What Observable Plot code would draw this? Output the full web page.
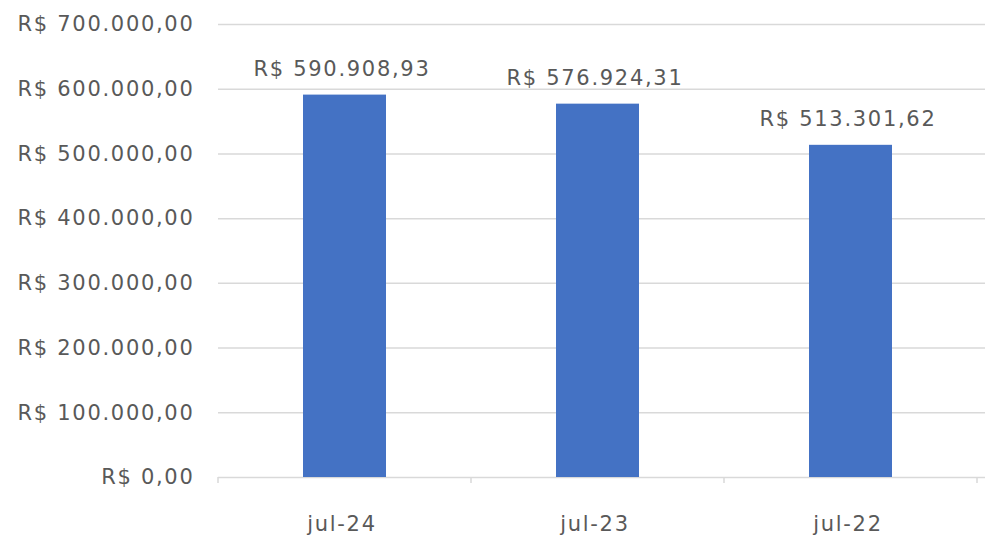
<!DOCTYPE html>
<html>
<head>
<meta charset="utf-8">
<script src="https://cdn.jsdelivr.net/npm/d3@7"></script>
<script src="https://cdn.jsdelivr.net/npm/@observablehq/plot@0.6"></script>
<style>
  html, body { margin: 0; padding: 0; background: #fff; }
  #chart svg { display: block; }
  #chart svg text { letter-spacing: 1.7px; }
</style>
</head>
<body>
<div id="chart"></div>
<script>
const categories = ["jul-24", "jul-23", "jul-22"];
const values = [590908.93, 576924.31, 513301.62];
const yTicks = [0, 100000, 200000, 300000, 400000, 500000, 600000, 700000];

const data = categories.map((c, i) => ({ cat: c, value: values[i] }));

const brl = d3.formatLocale({ decimal: ",", thousands: ".", grouping: [3], currency: ["R$ ", ""] }).format("$,.2f");

const font = "DejaVu Sans";
const textColor = "#595959";
const gridColor = "#d9d9d9";

// tick marks at category boundaries, computed from the band scale
function boundaryTicks(index, scales, values, dims) {
  const x = scales.scales.x;
  const step = x.step, bw = x.bandwidth;
  const y0 = dims.height - dims.marginBottom;
  const g = d3.create("svg:g");
  const pos = categories.map(c => scales.x(c) + bw / 2 - step / 2);
  pos.push(scales.x(categories[categories.length - 1]) + bw / 2 + step / 2);
  for (const p of pos) {
    g.append("line").attr("x1", p).attr("x2", p).attr("y1", y0).attr("y2", y0 + 6)
      .attr("stroke", gridColor).attr("stroke-width", 1.5);
  }
  return g.node();
}

const chart = Plot.plot({
  width: 985,
  height: 539,
  marginLeft: 218,
  marginRight: 0,
  marginTop: 24,
  marginBottom: 62,
  style: { fontFamily: font, fontSize: "21px", color: textColor, background: "#fff" },
  x: { type: "band", domain: categories, range: [218, 977], paddingInner: 0.67, paddingOuter: 0.335 },
  y: { domain: [0, 700000] },
  marks: [
    Plot.ruleY(yTicks, { stroke: gridColor, strokeWidth: 1.5 }),
    Plot.axisY(yTicks, { tickSize: 0, tickPadding: 24, tickFormat: brl, fontSize: 21, fill: textColor, label: null }),
    Plot.axisX({ tickSize: 0, tickPadding: 39, dx: -3, fontSize: 21, fill: textColor, label: null }),
    Plot.barY(data, { x: "cat", y: "value", fill: "#4472C4" }),
    Plot.text(data, { x: "cat", y: "value", text: d => brl(d.value), dy: -26, dx: -3, fontSize: 21, fill: textColor }),
    boundaryTicks
  ]
});

document.getElementById("chart").appendChild(chart);
</script>
</body>
</html>
